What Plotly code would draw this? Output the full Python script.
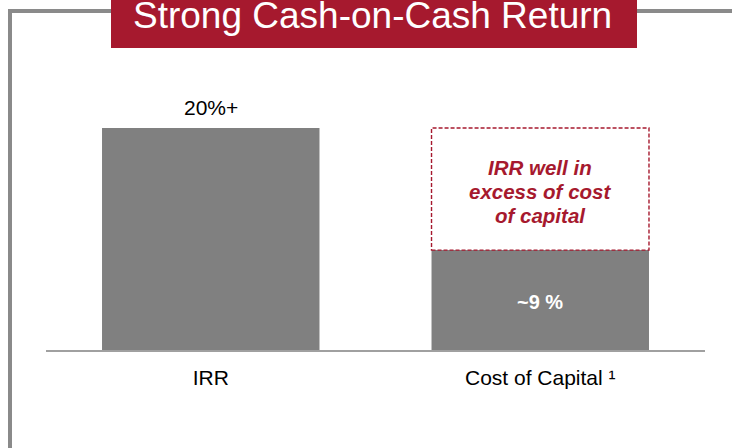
import plotly.graph_objects as go

# ---- data ----
categories = ["IRR", "Cost of Capital"]
tick_labels = ["IRR", "Cost of Capital ¹"]
values = [20, 9]
value_labels = ["20%+", "<b>~9 %</b>"]
title_text = "Strong Cash-on-Cash Return"
callout_lines = ["IRR well in", "excess of cost", "of capital"]

W, H = 732, 448
RED = "#A6192E"
BAR = "#808080"
FRAME = "#8A8A8A"
FONT = "Liberation Sans, Arial, sans-serif"
BAR_W = 0.66


def px(x):
    return x / W


def py(y):
    return 1 - y / H


fig = go.Figure()
fig.add_trace(go.Bar(
    x=categories, y=values, width=BAR_W,
    marker=dict(color=BAR, line=dict(width=0)),
    hoverinfo="skip",
))

ann = []
shapes = []

# value labels
ann.append(dict(x=categories[0], y=values[0], xref="x", yref="y",
                text=value_labels[0], showarrow=False, yanchor="middle",
                yshift=21, font=dict(size=21, color="#000000", family=FONT)))
ann.append(dict(x=categories[1], y=values[1] / 2, xref="x", yref="y",
                text=value_labels[1], showarrow=False, yanchor="middle",
                yshift=-2, font=dict(size=20, color="#FFFFFF", family=FONT)))

# dashed callout box from cost of capital up to IRR level
shapes.append(dict(type="rect", xref="x", yref="y",
                   x0=1 - BAR_W / 2, x1=1 + BAR_W / 2,
                   y0=values[1], y1=values[0],
                   line=dict(color=RED, width=1.4, dash="4px,2px"),
                   fillcolor="rgba(0,0,0,0)", layer="above"))
mid = (values[0] + values[1]) / 2
for i, line in enumerate(callout_lines):
    ann.append(dict(x=categories[1], y=mid, xref="x", yref="y",
                    text=f"<b><i>{line}</i></b>", showarrow=False,
                    yanchor="middle", yshift=(1 - i) * 24 - 2,
                    font=dict(size=20.5, color=RED, family=FONT)))

# frame lines
shapes.append(dict(type="line", xref="paper", yref="paper",
                   x0=px(10), x1=px(10), y0=py(11), y1=py(H + 5),
                   line=dict(color=FRAME, width=4)))
shapes.append(dict(type="line", xref="paper", yref="paper",
                   x0=px(8), x1=px(112), y0=py(11), y1=py(11),
                   line=dict(color=FRAME, width=4)))
shapes.append(dict(type="line", xref="paper", yref="paper",
                   x0=px(636), x1=px(W + 5), y0=py(11), y1=py(11),
                   line=dict(color=FRAME, width=4)))

# title box
shapes.append(dict(type="rect", xref="paper", yref="paper",
                   x0=px(111), x1=px(637), y0=py(48), y1=py(-2),
                   fillcolor=RED, line=dict(width=0), layer="above"))
ann.append(dict(x=px(372), y=py(15), xref="paper", yref="paper",
                text=title_text, showarrow=False, yanchor="middle",
                xanchor="center",
                font=dict(size=37, color="#FFFFFF", family=FONT)))

fig.update_layout(
    width=W, height=H,
    margin=dict(l=0, r=0, t=0, b=0),
    paper_bgcolor="white", plot_bgcolor="white",
    showlegend=False,
    shapes=shapes, annotations=ann,
    font=dict(family=FONT, color="#000000"),
    xaxis=dict(domain=[px(46), px(705)], range=[-0.5, 1.5],
               type="category", tickvals=categories, ticktext=tick_labels,
               showline=True, linecolor="#A0A0A0", linewidth=1.5,
               showgrid=False, zeroline=False, ticks="",
               tickfont=dict(size=21, color="#000000", family=FONT),
               ticklabelstandoff=8, fixedrange=True),
    yaxis=dict(domain=[1 - 350 / H, 1], range=[0, 350 / 11.1],
               visible=False, showgrid=False, zeroline=False,
               fixedrange=True),
)

fig.write_html("out.html",
               config={"displayModeBar": False, "staticPlot": True},
               post_script="document.body.style.margin='0';"
                           "document.body.style.overflow='hidden';")
